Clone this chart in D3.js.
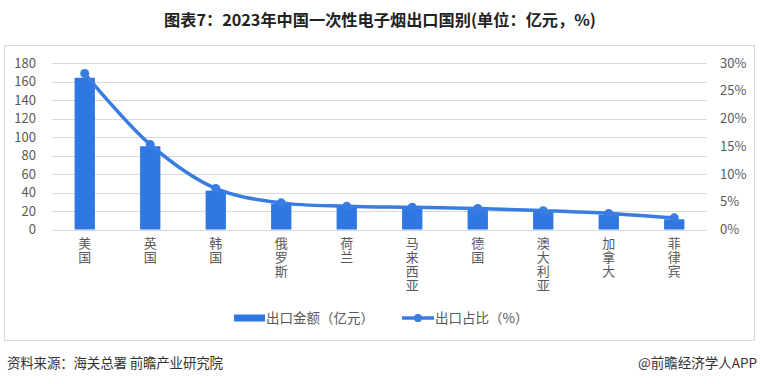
<!DOCTYPE html>
<html>
<head>
<meta charset="utf-8">
<script src="https://cdn.jsdelivr.net/npm/d3@7"></script>
<style>
  body { margin: 0; background: #fff; }
  svg { display: block; font-family: "Noto Sans CJK SC", "Noto Sans", sans-serif; }
</style>
</head>
<body>
<div id="chart"></div>
<script>
// Data
const countries = ['美国', '英国', '韩国', '俄罗斯', '荷兰', '马来西亚', '德国', '澳大利亚', '加拿大', '菲律宾'];
const amounts = [164, 90, 42, 28, 25, 23, 22, 20, 16, 11];
const shares = [28.1, 15.3, 7.4, 4.8, 4.2, 4.0, 3.8, 3.4, 2.9, 2.1];
const leftTicks = [0, 20, 40, 60, 80, 100, 120, 140, 160, 180];
const rightTicks = [0, 5, 10, 15, 20, 25, 30];

const W = 760, H = 384;
const plot = { left: 52, right: 707, top: 63, bottom: 229.5 };
const barColor = '#2f78e4';
const lineColor = '#3a7de2';
const textColor = '#595959';

const svg = d3.select('#chart')
              .append('svg')
              .attr('width', W)
              .attr('height', H);

// Title
svg.append('text')
  .attr('x', 380)
  .attr('y', 26)
  .attr('text-anchor', 'middle')
  .attr('font-size', 16)
  .attr('font-weight', 'bold')
  .attr('fill', '#222')
  .attr('textLength', 432)
  .attr('lengthAdjust', 'spacingAndGlyphs')
  .text('图表7：2023年中国一次性电子烟出口国别(单位：亿元，%)');

// Frame
svg.append('rect')
  .attr('x', 4.5).attr('y', 45.5)
  .attr('width', 750).attr('height', 295)
  .attr('fill', 'none')
  .attr('stroke', '#d9d9d9');

// Scales
const x = d3.scaleBand()
            .domain(countries)
            .range([plot.left, plot.right])
            .paddingInner(0.69)
            .paddingOuter(0.345);

const yLeft = d3.scaleLinear().domain([0, 180]).range([plot.bottom, plot.top]);
const yRight = d3.scaleLinear().domain([0, 30]).range([plot.bottom, plot.top]);

// Gridlines
svg.append('g')
  .selectAll('line')
  .data(leftTicks)
  .enter()
  .append('line')
  .attr('x1', plot.left).attr('x2', plot.right)
  .attr('y1', d => Math.round(yLeft(d)) + 0.5)
  .attr('y2', d => Math.round(yLeft(d)) + 0.5)
  .attr('stroke', '#d9d9d9');

// Left axis labels
const leftAxis = svg.append('g')
  .attr('transform', 'translate(36,0)')
  .call(d3.axisLeft(yLeft).tickValues(leftTicks).tickSize(0).tickPadding(0));
leftAxis.select('.domain').remove();
leftAxis.selectAll('text')
  .attr('font-size', 13)
  .attr('font-family', '"Noto Sans CJK SC", sans-serif')
  .attr('fill', textColor);

// Right axis labels
const rightAxis = svg.append('g')
  .attr('transform', 'translate(720,0)')
  .call(d3.axisRight(yRight).tickValues(rightTicks).tickSize(0).tickPadding(0).tickFormat(d => d + '%'));
rightAxis.select('.domain').remove();
rightAxis.selectAll('text')
  .attr('font-size', 13)
  .attr('font-family', '"Noto Sans CJK SC", sans-serif')
  .attr('fill', textColor);

// Bars
svg.append('g')
  .selectAll('rect')
  .data(countries)
  .enter()
  .append('rect')
  .attr('x', d => x(d))
  .attr('width', x.bandwidth())
  .attr('y', (d, i) => yLeft(amounts[i]))
  .attr('height', (d, i) => yLeft(0) - yLeft(amounts[i]))
  .attr('fill', barColor);

// Line
const cx = d => x(d) + x.bandwidth() / 2;
const line = d3.line()
               .x(d => cx(d))
               .y((d, i) => yRight(shares[i]))
               .curve(d3.curveCatmullRom.alpha(0.5));

svg.append('path')
  .datum(countries)
  .attr('d', line)
  .attr('fill', 'none')
  .attr('stroke', lineColor)
  .attr('stroke-width', 3.5);

svg.append('g')
  .selectAll('circle')
  .data(countries)
  .enter()
  .append('circle')
  .attr('cx', cx)
  .attr('cy', (d, i) => yRight(shares[i]))
  .attr('r', 4.5)
  .attr('fill', lineColor);

// Vertical category labels, one text per country
svg.append('g')
  .selectAll('text')
  .data(countries)
  .enter()
  .append('text')
  .attr('x', cx)
  .attr('y', 237)
  .attr('writing-mode', 'vertical-rl')
  .attr('letter-spacing', 1)
  .attr('font-size', 13)
  .attr('fill', textColor)
  .text(d => d);

// Legend
const legend = svg.append('g').attr('font-size', 13.5).attr('fill', textColor);
legend.append('rect')
  .attr('x', 234).attr('y', 314.5)
  .attr('width', 31).attr('height', 7)
  .attr('fill', barColor);
legend.append('text')
  .attr('x', 266).attr('y', 323)
  .text('出口金额（亿元）');
legend.append('line')
  .attr('x1', 402).attr('x2', 434)
  .attr('y1', 318).attr('y2', 318)
  .attr('stroke', lineColor)
  .attr('stroke-width', 3.5);
legend.append('circle')
  .attr('cx', 418).attr('cy', 318).attr('r', 4)
  .attr('fill', lineColor);
legend.append('text')
  .attr('x', 435).attr('y', 323)
  .text('出口占比（%）');

// Footer
svg.append('text')
  .attr('x', 7).attr('y', 368)
  .attr('font-size', 13.5)
  .attr('fill', '#333')
  .attr('textLength', 216)
  .attr('lengthAdjust', 'spacing')
  .text('资料来源：海关总署 前瞻产业研究院');

svg.append('text')
  .attr('x', 757).attr('y', 368)
  .attr('text-anchor', 'end')
  .attr('font-size', 13.5)
  .attr('fill', '#333')
  .text('@前瞻经济学人APP');
</script>
</body>
</html>
